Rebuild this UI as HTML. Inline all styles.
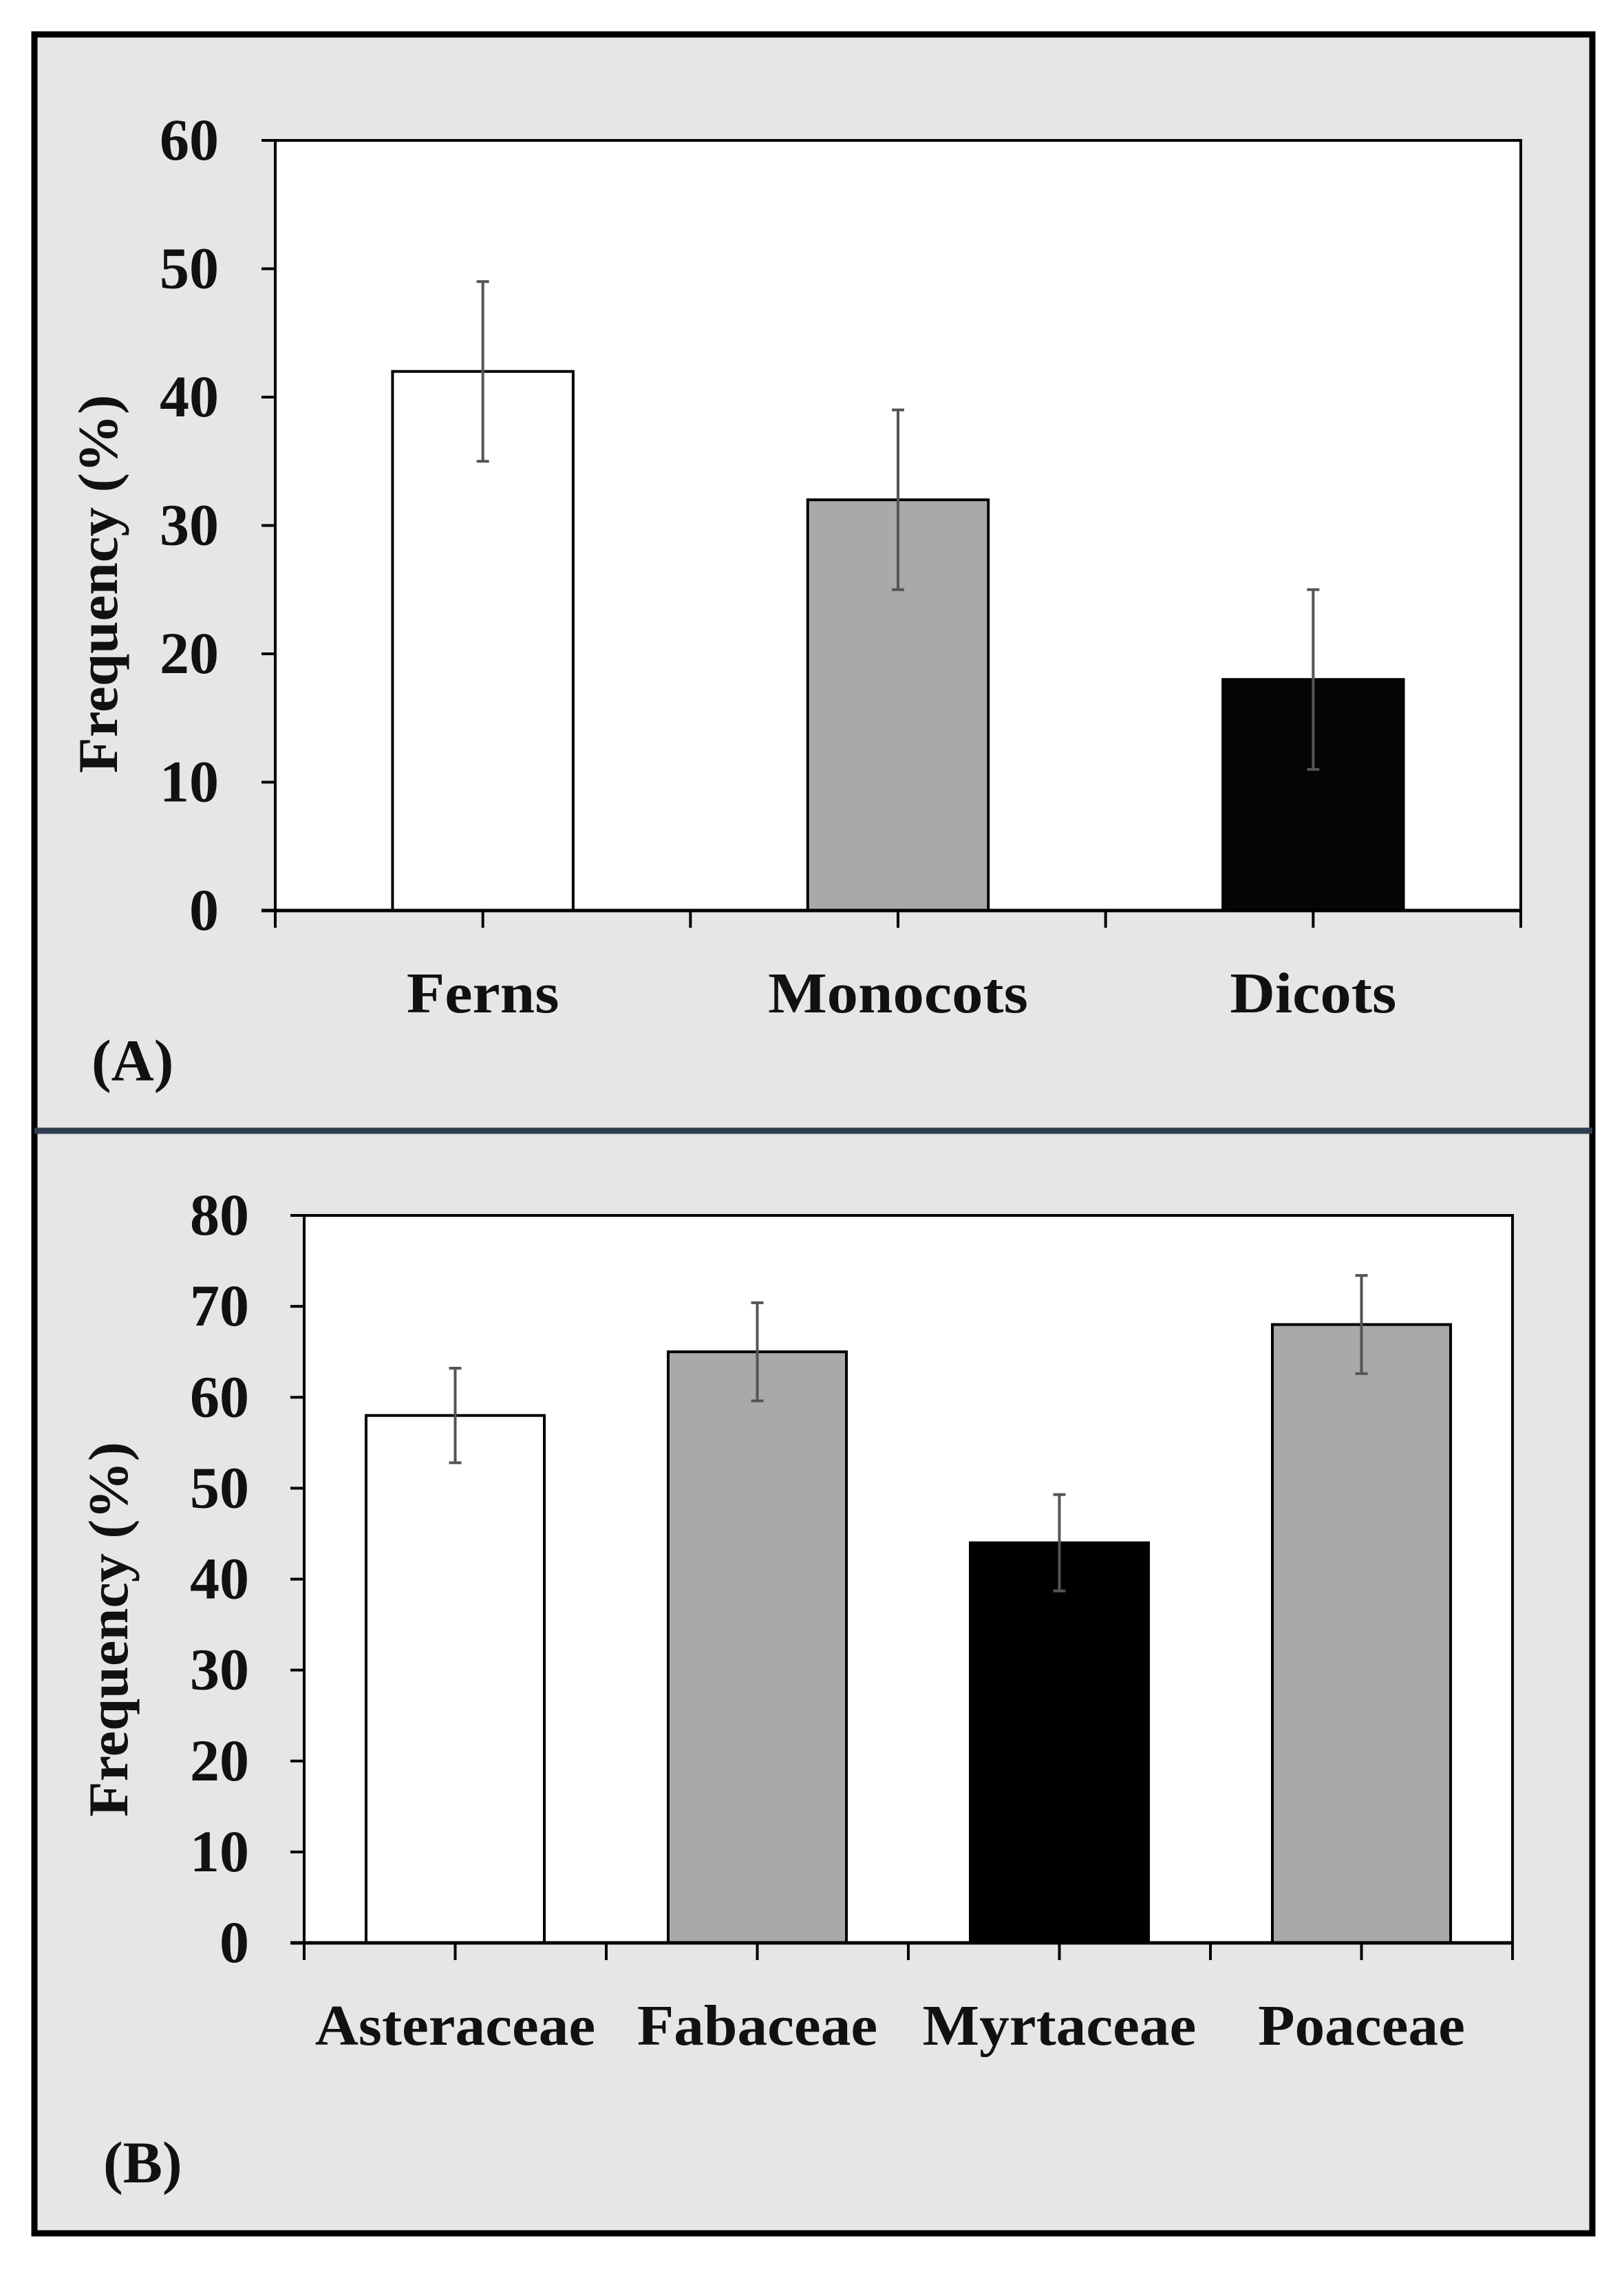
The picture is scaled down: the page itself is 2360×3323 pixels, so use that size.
<!DOCTYPE html>
<html><head><meta charset="utf-8"><style>
html,body{margin:0;padding:0;background:#fff}
svg{display:block}
text{font-family:"Liberation Serif",serif;font-weight:bold;fill:#111}
</style></head><body>
<svg id="fig" width="2360" height="3323" viewBox="0 0 2360 3323" xmlns="http://www.w3.org/2000/svg">
<rect x="50" y="50" width="2264" height="3195" fill="#e6e6e6" stroke="#000" stroke-width="9"/>
<line x1="50" y1="1643" x2="2314" y2="1643" stroke="#2f3e4e" stroke-width="9"/>
<g id="pa"></g>
<g id="pb"></g>
</svg>
<script>
const catsA = ["Ferns","Monocots","Dicots"];
const valsA = [42,32,18];
const errA = [7,7,7];
const ticksA = [0,10,20,30,40,50,60];
const colorsA = ["#ffffff","#a9a9a9","#050505"];

const catsB = ["Asteraceae","Fabaceae","Myrtaceae","Poaceae"];
const valsB = [58,65,44,68];
const errB = [5.2,5.4,5.3,5.4];
const ticksB = [0,10,20,30,40,50,60,70,80];
const colorsB = ["#ffffff","#a9a9a9","#000000","#a9a9a9"];

const NS="http://www.w3.org/2000/svg";
function mk(parent,tag,attrs,txt){const e=document.createElementNS(NS,tag);for(const k in attrs)e.setAttribute(k,attrs[k]);if(txt!==undefined)e.textContent=txt;parent.appendChild(e);return e;}

function drawPanel(g,cfg,cats,vals,errs,ticks,colors,letter){
  const {L,R,T,B,ymax,barFrac,labelY,titleX,titleW,titleShift,letterX,letterY,tickLblX,lblScale}=cfg;
  const y=v=>B-(v/ymax)*(B-T);
  const cw=(R-L)/cats.length;
  const x=i=>L+cw*(i+0.5);
  const bg=mk(g,'rect',{x:L,y:T,width:R-L,height:B-T,fill:'#fff'});
  
  
  const fr=mk(g,'path',{d:`M${L},${T}H${R}V${B}`,fill:'none',stroke:'#000','stroke-width':4});
  
  
  ticks.forEach(t=>{
    const tl=mk(g,'line',{x1:L-20,x2:L,y1:y(t),y2:y(t),stroke:'#000','stroke-width':4});
    
    
    const tx=mk(g,'text',{x:tickLblX,y:y(t)+28,'text-anchor':'end','font-size':86},String(t));
    
    
  });
  cats.forEach((c,i)=>{
    const bw=cw*barFrac;
    const r=mk(g,'rect',{x:x(i)-bw/2,y:y(vals[i]),width:bw,height:B-y(vals[i]),fill:colors[i],stroke:'#000','stroke-width':4});
    
    
    const hi=y(vals[i]+errs[i]),lo=y(vals[i]-errs[i]);
    const eb=mk(g,'path',{d:`M${x(i)},${hi}V${lo}M${x(i)-9},${hi}H${x(i)+9}M${x(i)-9},${lo}H${x(i)+9}`,stroke:'#555','stroke-width':4,fill:'none'});
    
    
    const lb=mk(g,'text',{x:0,y:0,'text-anchor':'middle','font-size':84,transform:`translate(${x(i)} ${labelY}) scale(${lblScale} 1)`},c);
    
    
  });
  const xa=mk(g,'line',{x1:L-20,x2:R,y1:B,y2:B,stroke:'#000','stroke-width':5});
  
  
  const ya=mk(g,'line',{x1:L,x2:L,y1:T,y2:B,stroke:'#000','stroke-width':4});
  
  
  for(let k=0;k<=cats.length*2;k++){
    const xx=L+cw*k/2;
    const xt=mk(g,'line',{x1:xx,x2:xx,y1:B,y2:B+25,stroke:'#000','stroke-width':4});
    
    
  }
  const cy=(T+B)/2+titleShift;
  const tt=mk(g,'text',{x:titleX,y:cy,'text-anchor':'middle','font-size':82,transform:`rotate(-90 ${titleX} ${cy})`,textLength:titleW,lengthAdjust:'spacingAndGlyphs',dy:27},'Frequency (%)');
  
  
  const lt=mk(g,'text',{x:letterX,y:letterY,'font-size':86},letter);
  
  
}
drawPanel(document.getElementById('pa'),{L:400,R:2210,T:204,B:1323,ymax:60,barFrac:0.435,labelY:1471,titleX:143,titleW:550,titleShift:85,letterX:133,letterY:1570,tickLblX:318,lblScale:1.08},catsA,valsA,errA,ticksA,colorsA,'(A)');
drawPanel(document.getElementById('pb'),{L:442,R:2198,T:1766,B:2823,ymax:80,barFrac:0.59,labelY:2971,titleX:158,titleW:545,titleShift:73,letterX:150,letterY:3171,tickLblX:362,lblScale:1.04},catsB,valsB,errB,ticksB,colorsB,'(B)');
</script>
</body></html>
